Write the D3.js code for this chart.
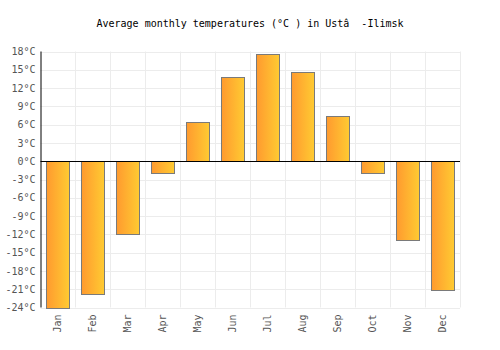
<!DOCTYPE html>
<html>
<head>
<meta charset="utf-8">
<script src="https://cdn.jsdelivr.net/npm/d3@7"></script>
<style>
  body { margin: 0; background: #fff; }
  text { font-family: "DejaVu Sans Mono", monospace; }
</style>
</head>
<body>
<svg id="chart" width="500" height="350"></svg>
<script>
const months = ["Jan", "Feb", "Mar", "Apr", "May", "Jun", "Jul", "Aug", "Sep", "Oct", "Nov", "Dec"];
const temps = [-24.0, -21.8, -11.9, -2.0, 6.4, 13.8, 17.6, 14.6, 7.5, -1.95, -12.9, -21.2];
const yTicks = [-24, -21, -18, -15, -12, -9, -6, -3, 0, 3, 6, 9, 12, 15, 18];
const title = "Average monthly temperatures (°C ) in Ustâ  -Ilimsk";

const margin = { top: 51.5, right: 40, bottom: 42.5, left: 40.5 };
const width = 500, height = 350;

const svg = d3.select("#chart");

const defs = svg.append("defs");
const grad = defs.append("linearGradient").attr("id", "barGrad")
  .attr("x1", "0%").attr("x2", "100%").attr("y1", "0%").attr("y2", "0%");
grad.append("stop").attr("offset", "0%").attr("stop-color", "#ff9a2f");
grad.append("stop").attr("offset", "100%").attr("stop-color", "#ffcb32");

const x = d3.scaleBand().domain(months)
  .range([margin.left, width - margin.right]).padding(0);
const y = d3.scaleLinear().domain([-24, 18])
  .range([height - margin.bottom, margin.top]);

// grid
const grid = svg.append("g").attr("stroke", "#ececec").attr("stroke-width", 1);
grid.selectAll(".hg").data(yTicks).join("line")
  .attr("x1", margin.left).attr("x2", width - margin.right)
  .attr("y1", d => Math.round(y(d)) + 0.5).attr("y2", d => Math.round(y(d)) + 0.5);
grid.selectAll(".vg").data(months.slice(1).concat([null])).join("line")
  .attr("x1", d => Math.round(d ? x(d) : width - margin.right) + 0.5)
  .attr("x2", d => Math.round(d ? x(d) : width - margin.right) + 0.5)
  .attr("y1", margin.top).attr("y2", height - margin.bottom);

// bars
const bw = x.bandwidth() * 0.66;
svg.append("g").selectAll("rect").data(temps).join("rect")
  .attr("x", (d, i) => Math.round(x(months[i]) + (x.bandwidth() - bw) / 2) + 0.5)
  .attr("width", Math.round(bw))
  .attr("y", d => Math.round(y(Math.max(0, d))) + 0.5)
  .attr("height", d => Math.round(y(Math.min(0, d))) - Math.round(y(Math.max(0, d))))
  .attr("fill", "url(#barGrad)")
  .attr("stroke", "#7a7a7a")
  .attr("stroke-width", 1);

// zero line
svg.append("line")
  .attr("x1", margin.left).attr("x2", width - margin.right)
  .attr("y1", Math.round(y(0)) + 0.5).attr("y2", Math.round(y(0)) + 0.5)
  .attr("stroke", "#000").attr("stroke-width", 1);

// y axis
const gY = svg.append("g").attr("transform", `translate(${margin.left},0)`)
  .call(d3.axisLeft(y).tickValues(yTicks).tickSize(0).tickPadding(5)
    .tickFormat(d => `${d}°C`));
gY.select(".domain").attr("stroke", "#000").attr("d",
  `M0.5,${margin.top}V${height - margin.bottom}`);
gY.selectAll("text").attr("fill", "#555").attr("font-size", 10)
  .attr("font-family", "DejaVu Sans Mono, monospace");

// x axis labels
const gX = svg.append("g").attr("transform", `translate(0,${height - margin.bottom})`)
  .call(d3.axisBottom(x).tickSize(0));
gX.select(".domain").remove();
gX.selectAll("text")
  .attr("fill", "#555").attr("font-size", 10)
  .attr("font-family", "DejaVu Sans Mono, monospace")
  .attr("text-anchor", "end")
  .attr("transform", "rotate(-90)")
  .attr("x", -7).attr("y", 0).attr("dy", "0.35em");

// title
svg.append("text")
  .attr("x", width / 2).attr("y", 27)
  .attr("text-anchor", "middle")
  .attr("font-size", 10)
  .attr("fill", "#000")
  .style("white-space", "pre")
  .text(title);
</script>
</body>
</html>
